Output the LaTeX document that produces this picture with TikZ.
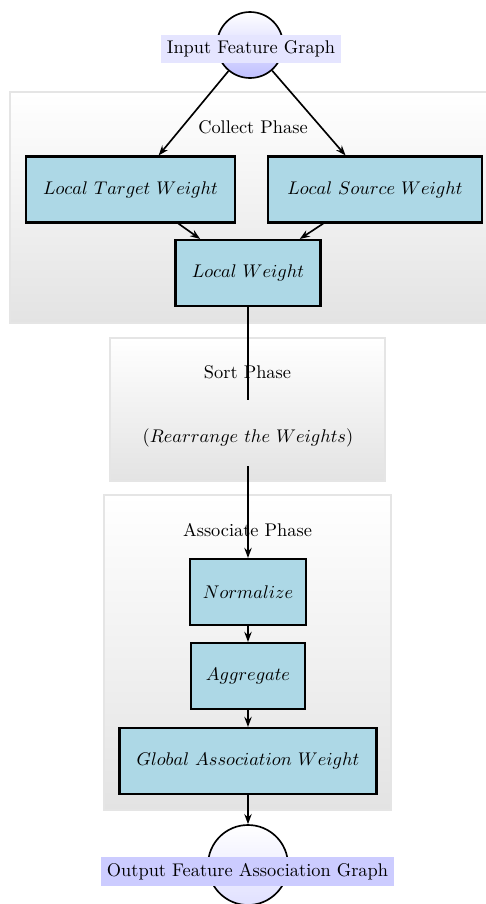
\documentclass[tikz,border=0pt]{standalone}
\usetikzlibrary{arrows.meta}
\definecolor{boxblue}{RGB}{173,216,230}
\def\u{0.545pt}
\begin{document}
\begin{tikzpicture}[x=0.545pt, y=-0.545pt,
  panel/.style={draw=black!10, line width=0.6pt, top color=white, bottom color=black!11},
  phasetitle/.style={inner sep=0pt},
  wbox/.style={draw=black, line width=1.1pt, fill=boxblue, minimum height=66*\u, inner sep=0pt},
  graphnode/.style={circle, draw=black, line width=0.9pt, inner sep=0pt},
  graphlabel/.style={inner sep=3.33pt},
  arr/.style={line width=0.9pt, -{Stealth[length=5.5pt,width=4pt]}},
  plain/.style={line width=0.9pt}]
\useasboundingbox (0,0) rectangle (486,904);

% phase panels
\draw[panel] (10,92) rectangle (492,323);
\draw[panel] (110,338) rectangle (385,481);
\draw[panel] (104,495) rectangle (391,810);

\node[phasetitle] (collecttitle) at (253,127) {Collect Phase};
\node[phasetitle] (sorttitle) at (247.5,372) {Sort Phase};
\node[phasetitle] (assoctitle) at (247.5,530) {Associate Phase};

% input graph
\node[graphnode, minimum size=66*\u, top color=white, bottom color=blue!25] (incirc) at (250,45) {};

% collect phase
\node[wbox, minimum width=209*\u] (ltw) at (130.5,189.5) {$Local\ Target\ Weight$};
\node[wbox, minimum width=214*\u] (lsw) at (375,189.5) {$Local\ Source\ Weight$};
\node[wbox, minimum width=145*\u] (lw) at (248,273) {$Local\ Weight$};

% sort phase
\node[minimum height=66*\u, inner sep=0pt, text height=12.5pt, text depth=2.5pt] (sort) at (248,433) {$(Rearrange\ the\ Weights)$};

% associate phase
\node[wbox, minimum width=116*\u] (norm) at (248,592) {$Normalize$};
\node[wbox, minimum width=114*\u] (agg) at (248,676) {$Aggregate$};
\node[wbox, minimum width=257*\u] (gaw) at (248,761) {$Global\ Association\ Weight$};

% output graph
\node[graphnode, minimum size=80*\u, top color=white, bottom color=blue!12] (outcirc) at (248,865) {};

% connectors
\draw[arr] (incirc) -- (ltw);
\draw[arr] (incirc) -- (lsw);
\draw[arr] (ltw) -- (lw);
\draw[arr] (lsw) -- (lw);
\draw[plain] (lw) -- (sort);
\draw[arr] (sort) -- (norm);
\draw[arr] (norm) -- (agg);
\draw[arr] (agg) -- (gaw);
\draw[arr] (gaw) -- (outcirc);

% graph labels
\node[graphlabel, fill=blue!10] (inlabel) at (251,49) {Input Feature Graph};
\node[graphlabel, fill=blue!20] (outlabel) at (247.5,871.5) {Output Feature Association Graph};
\end{tikzpicture}
\end{document}
